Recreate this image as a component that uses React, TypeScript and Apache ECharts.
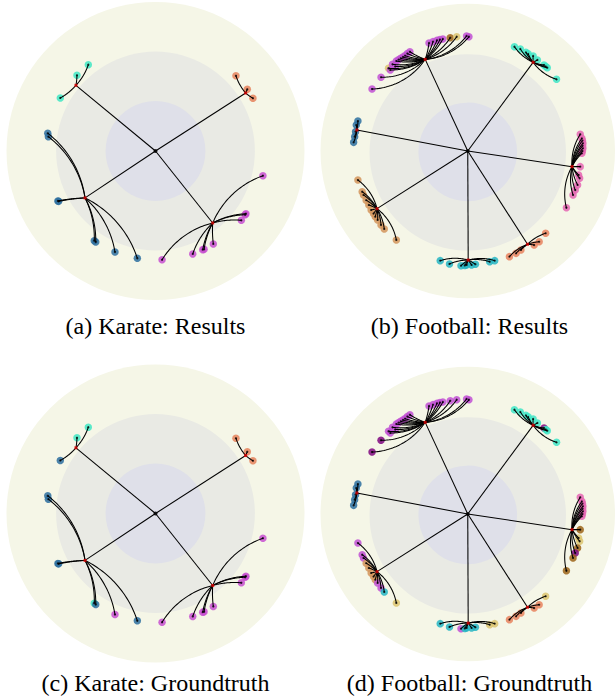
import React, { useEffect, useRef } from "react";
import * as echarts from "echarts";

// ---------- Karate (Poincaré-disk coordinates) ----------
const karateRoot = [0, 0];
const karateHubX = [-0.534, 0.605, -0.473, 0.384];
const karateHubY = [0.441, 0.389, -0.315, -0.483];
const karateLeafX = [-0.451, -0.527, -0.639, 0.54, 0.616, 0.654, -0.723, -0.719, -0.65, -0.655, -0.411, -0.401, -0.272, -0.122, 0.721, 0.607, 0.602, 0.576, 0.388, 0.326, 0.317, 0.25, 0.044];
const karateLeafY = [0.579, 0.508, 0.356, 0.505, 0.414, 0.354, 0.119, 0.096, -0.338, -0.335, -0.602, -0.611, -0.678, -0.72, -0.166, -0.421, -0.428, -0.465, -0.624, -0.66, -0.662, -0.691, -0.73];
const karateLeafHub = [0, 0, 0, 1, 1, 1, 2, 2, 2, 2, 2, 2, 2, 2, 3, 3, 3, 3, 3, 3, 3, 3, 3];
const karateResult = [0, 0, 0, 1, 1, 1, 2, 2, 2, 2, 2, 2, 2, 2, 3, 3, 3, 3, 3, 3, 3, 3, 3];
const karateTruth = [0, 0, 2, 1, 1, 1, 2, 2, 2, 2, 0, 2, 3, 2, 3, 3, 3, 3, 3, 3, 3, 3, 3];

// ---------- Football (Poincaré-disk coordinates) ----------
const footballRoot = [0, 0];
const footballHubX = [-0.289, 0.444, -0.753, 0.708, -0.616, 0.003, 0.406];
const footballHubY = [0.615, 0.595, 0.141, -0.105, -0.387, -0.732, -0.626];
const footballLeafX = [
  -0.65, -0.589, -0.538, -0.511, -0.485, -0.455, -0.426, -0.393, -0.526, -0.493, -0.263, -0.209, -0.169, -0.119, -0.075, -0.008, 0.008,
  -0.47, -0.44, -0.41, -0.236, -0.189,
  0.317, 0.357, 0.395, 0.444, 0.473, 0.518, 0.54, 0.603, 0.41, 0.53,
  -0.746, -0.757, -0.762, -0.768, -0.775,
  0.764, 0.775, 0.782, 0.782, 0.775, 0.764, 0.753, 0.76, 0.746, 0.73, 0.715, 0.67, 0.779, 0.78, 0.779,
  -0.746, -0.717, -0.708, -0.672, -0.656, -0.628, -0.612, -0.589, -0.567, -0.485, -0.69, -0.64,
  -0.187, -0.124, -0.046, -0.008, 0.026, 0.052, 0.149, 0.183, -0.02,
  0.283, 0.328, 0.361, 0.451, 0.485, 0.529,
];
const footballLeafY = [
  0.416, 0.495, 0.555, 0.582, 0.604, 0.622, 0.64, 0.666, 0.544, 0.567, 0.725, 0.743, 0.752, 0.76, 0.767, 0.772, 0.767,
  0.613, 0.631, 0.654, 0.734, 0.748,
  0.7, 0.685, 0.662, 0.638, 0.611, 0.577, 0.559, 0.481, 0.652, 0.567,
  0.201, 0.174, 0.13, 0.096, 0.058,
  0.112, 0.085, 0.052, 0.018, -0.015, -0.105, -0.161, -0.183, -0.228, -0.262, -0.295, -0.381, 0.07, 0.035, 0.0,
  -0.195, -0.273, -0.295, -0.362, -0.396, -0.441, -0.463, -0.497, -0.523, -0.597, -0.33, -0.42,
  -0.736, -0.758, -0.77, -0.765, -0.765, -0.76, -0.743, -0.736, -0.768,
  -0.709, -0.687, -0.664, -0.631, -0.609, -0.552,
];
const footballLeafHub = [
  0, 0, 0, 0, 0, 0, 0, 0, 0, 0, 0, 0, 0, 0, 0, 0, 0,
  0, 0, 0, 0, 0,
  1, 1, 1, 1, 1, 1, 1, 1, 1, 1,
  2, 2, 2, 2, 2,
  3, 3, 3, 3, 3, 3, 3, 3, 3, 3, 3, 3, 3, 3, 3,
  4, 4, 4, 4, 4, 4, 4, 4, 4, 4, 4, 4,
  5, 5, 5, 5, 5, 5, 5, 5, 5,
  6, 6, 6, 6, 6, 6,
];
const footballResult = [
  0, 0, 7, 0, 0, 0, 0, 0, 0, 0, 0, 0, 0, 8, 7, 0, 0,
  0, 0, 0, 0, 0,
  1, 1, 1, 1, 1, 1, 1, 1, 1, 1,
  2, 2, 2, 2, 2,
  3, 3, 3, 3, 3, 3, 3, 3, 3, 3, 3, 3, 3, 3, 3,
  4, 4, 4, 4, 4, 4, 4, 4, 4, 4, 4, 4,
  5, 5, 5, 5, 5, 5, 5, 5, 5,
  6, 6, 6, 6, 6, 6,
];
const footballTruth = [
  9, 9, 0, 0, 0, 0, 0, 0, 0, 0, 0, 0, 0, 0, 0, 0, 0,
  0, 0, 0, 0, 0,
  1, 1, 1, 1, 1, 9, 1, 1, 1, 1,
  2, 2, 2, 2, 2,
  3, 3, 3, 3, 3, 8, 7, 7, 8, 9, 8, 8, 3, 3, 3,
  0, 0, 0, 4, 4, 4, 0, 0, 5, 7, 4, 4,
  5, 5, 0, 5, 5, 5, 7, 7, 5,
  6, 6, 6, 6, 6, 7,
];

const bandRadii = [1, 0.667, 0.335];
const captions = ["(a) Karate: Results", "(b) Football: Results", "(c) Karate: Groundtruth", "(d) Football: Groundtruth"];

// ---------- styles ----------
const bandColors = ["#f5f6e7", "#e9eae4", "#dfe0e9"];
const karatePalette = ["#3fe6c3", "#e5835c", "#2d6e9f", "#c74fd0"];
const footballPalette = ["#c150d3", "#3ee6c7", "#2c6e9f", "#e566b3", "#d2945a", "#25b5c3", "#e8825e", "#dcc46e", "#9c6418", "#7f067f"];
const panelCenters = [
  [155.5, 151],
  [469.5, 151],
  [155.5, 513.5],
  [469.5, 514],
];
const diskR = 149;

function geodesic(x1: number, y1: number, x2: number, y2: number, n = 36): number[][] {
  const cross = x1 * y2 - y1 * x2;
  if (Math.abs(cross) < 1e-6) return [[x1, y1], [x2, y2]];
  const n1 = x1 * x1 + y1 * y1;
  const n2 = x2 * x2 + y2 * y2;
  let ix: number, iy: number;
  if (n1 >= n2) {
    ix = x1 / n1;
    iy = y1 / n1;
  } else {
    ix = x2 / n2;
    iy = y2 / n2;
  }
  const a11 = 2 * (x2 - x1), a12 = 2 * (y2 - y1), b1 = n2 - n1;
  const a21 = 2 * (ix - x1), a22 = 2 * (iy - y1), b2 = ix * ix + iy * iy - n1;
  const det = a11 * a22 - a12 * a21;
  if (Math.abs(det) < 1e-12) return [[x1, y1], [x2, y2]];
  const cx = (b1 * a22 - a12 * b2) / det;
  const cy = (a11 * b2 - b1 * a21) / det;
  const r = Math.hypot(x1 - cx, y1 - cy);
  const t1 = Math.atan2(y1 - cy, x1 - cx);
  const t2 = Math.atan2(y2 - cy, x2 - cx);
  let d = t2 - t1;
  while (d > Math.PI) d -= 2 * Math.PI;
  while (d < -Math.PI) d += 2 * Math.PI;
  const pts: number[][] = [];
  for (let i = 0; i <= n; i++) {
    const t = t1 + (d * i) / n;
    pts.push([cx + r * Math.cos(t), cy + r * Math.sin(t)]);
  }
  return pts;
}

type Dataset = {
  root: number[];
  hubX: number[];
  hubY: number[];
  leafX: number[];
  leafY: number[];
  leafHub: number[];
  labels: number[];
  palette: string[];
};

function panelSeries(ds: Dataset, gi: number): any[] {
  const edges: number[][] = [];
  ds.hubX.forEach((hx, h) => edges.push([ds.root[0], ds.root[1], hx, ds.hubY[h]]));
  ds.leafX.forEach((lx, i) => {
    const h = ds.leafHub[i];
    edges.push([ds.hubX[h], ds.hubY[h], lx, ds.leafY[i]]);
  });
  const leaves = ds.leafX.map((lx, i) => [lx, ds.leafY[i], ds.labels[i]]);
  const hubs = ds.hubX.map((hx, h) => [hx, ds.hubY[h]]);
  return [
    {
      type: "custom",
      xAxisIndex: gi,
      yAxisIndex: gi,
      z: 1,
      silent: true,
      data: bandRadii.map((r, i) => [0, 0, r, i]),
      renderItem: (params: any, api: any) => {
        const c = api.coord([api.value(0), api.value(1)]);
        const rr = api.size([api.value(2), 0])[0];
        return {
          type: "circle",
          shape: { cx: c[0], cy: c[1], r: rr },
          style: { fill: bandColors[api.value(3)] },
        };
      },
    },
    {
      type: "scatter",
      xAxisIndex: gi,
      yAxisIndex: gi,
      z: 2,
      silent: true,
      symbolSize: 7.5,
      data: leaves,
      itemStyle: {
        opacity: 0.85,
        color: (p: any) => ds.palette[p.value[2]],
      },
    },
    {
      type: "custom",
      xAxisIndex: gi,
      yAxisIndex: gi,
      z: 3,
      silent: true,
      data: edges,
      encode: { x: [0, 2], y: [1, 3] },
      renderItem: (params: any, api: any) => {
        const pts = geodesic(api.value(0), api.value(1), api.value(2), api.value(3));
        return {
          type: "polyline",
          shape: { points: pts.map((p) => api.coord(p)) },
          style: { stroke: "#000", lineWidth: 1.05, fill: null },
        };
      },
    },
    {
      type: "scatter",
      xAxisIndex: gi,
      yAxisIndex: gi,
      z: 3,
      silent: true,
      symbolSize: 2.2,
      data: leaves,
      itemStyle: { color: "#000" },
    },
    {
      type: "scatter",
      xAxisIndex: gi,
      yAxisIndex: gi,
      z: 4,
      silent: true,
      symbol: "rect",
      symbolSize: 3,
      data: hubs,
      itemStyle: { color: "#e00000" },
    },
    {
      type: "scatter",
      xAxisIndex: gi,
      yAxisIndex: gi,
      z: 4,
      silent: true,
      symbolSize: 4,
      data: [ds.root],
      itemStyle: { color: "#000" },
    },
  ];
}

export default function App() {
  const ref = useRef<HTMLDivElement>(null);
  useEffect(() => {
    document.body.style.margin = "0";
    if (!ref.current) return;
    const chart = echarts.init(ref.current, undefined, { renderer: "svg" });
    const karate = { root: karateRoot, hubX: karateHubX, hubY: karateHubY, leafX: karateLeafX, leafY: karateLeafY, leafHub: karateLeafHub, palette: karatePalette };
    const football = { root: footballRoot, hubX: footballHubX, hubY: footballHubY, leafX: footballLeafX, leafY: footballLeafY, leafHub: footballLeafHub, palette: footballPalette };
    const datasets: Dataset[] = [
      { ...karate, labels: karateResult },
      { ...football, labels: footballResult },
      { ...karate, labels: karateTruth },
      { ...football, labels: footballTruth },
    ];
    const grids = panelCenters.map(([cx, cy]) => ({
      left: cx - diskR,
      top: cy - diskR,
      width: 2 * diskR,
      height: 2 * diskR,
      containLabel: false,
    }));
    const axes = panelCenters.map((_, i) => ({ type: "value", gridIndex: i, min: -1, max: 1, show: false }));
    const series: any[] = [];
    datasets.forEach((ds, i) => series.push(...panelSeries(ds, i)));
    const captionY = [326, 326, 683, 683];
    chart.setOption({
      animation: false,
      backgroundColor: "#ffffff",
      grid: grids,
      xAxis: axes,
      yAxis: axes.map((a) => ({ ...a })),
      series,
      graphic: captions.map((t, i) => ({
        type: "text",
        x: panelCenters[i][0],
        y: captionY[i],
        silent: true,
        style: {
          text: t,
          fontFamily: "'Liberation Serif', 'DejaVu Serif', serif",
          fontSize: 24,
          fill: "#000",
          align: "center",
          verticalAlign: "middle",
        },
      })),
    });
    return () => chart.dispose();
  }, []);
  return <div ref={ref} style={{ width: 615, height: 698 }} />;
}
